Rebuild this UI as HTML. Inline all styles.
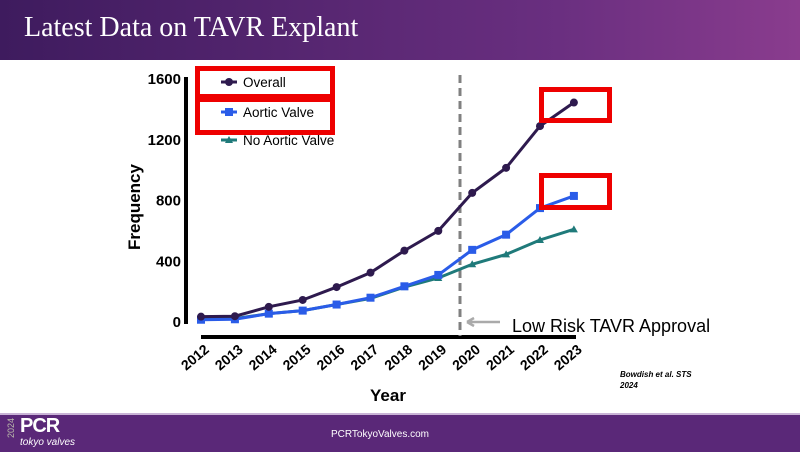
<!DOCTYPE html>
<html><head><meta charset="utf-8"><style>
body{margin:0;width:800px;height:450px;overflow:hidden;background:#fff;font-family:"Liberation Sans",sans-serif;position:relative}
#hdr{position:absolute;left:0;top:0;width:800px;height:60px;background:linear-gradient(90deg,#3e1b5e,#6a2f80 70%,#8a3c8e)}
#title{position:absolute;left:24px;top:12px;color:#fff;font:28px "Liberation Serif",serif}
#ftr{position:absolute;left:0;top:413px;width:800px;height:37px;background:#5a2878;border-top:2px solid #c9b3d6}
.rb{position:absolute;border:5px solid #ee0000;box-sizing:border-box}
</style></head><body>
<div id="hdr"></div>
<div id="title">Latest Data on TAVR Explant</div>
<svg id="chart" width="800" height="450" style="position:absolute;left:0;top:0"></svg>
<div class="rb" style="left:195px;top:66px;width:140px;height:33px"></div>
<div class="rb" style="left:195px;top:97px;width:140px;height:38px"></div>
<div class="rb" style="left:539px;top:87px;width:73px;height:36px"></div>
<div class="rb" style="left:539px;top:173px;width:73px;height:37px"></div>
<div id="ftr">
<div style="position:absolute;left:6px;top:3px;color:#bba;font-size:9px;writing-mode:vertical-rl;transform:rotate(180deg)">2024</div>
<div style="position:absolute;left:20px;top:0px;color:#fff;font-weight:bold;font-size:20px;letter-spacing:-1px">PCR</div>
<div style="position:absolute;left:20px;top:22px;color:#fff;font-style:italic;font-size:10px">tokyo valves</div>
<div style="position:absolute;left:0;width:760px;text-align:center;top:14px;color:#fff;font-size:10px">PCRTokyoValves.com</div>
</div>
<script>
const years=["2012","2013","2014","2015","2016","2017","2018","2019","2020","2021","2022","2023"];
const overall=[35,38,100,145,230,325,470,600,850,1015,1290,1445];
const aortic=[15,18,55,75,115,160,235,310,475,575,750,830];
const noAortic=[20,22,55,75,115,155,230,290,380,445,540,610];
const yTicks=[0,400,800,1200,1600];
const NS="http://www.w3.org/2000/svg";
const svg=document.getElementById('chart');
const X=i=>201+i*33.9;
const Y=v=>322-v*(243/1600);
function mk(t,a,p){const e=document.createElementNS(NS,t);for(const k in a)e.setAttribute(k,a[k]);(p||svg).appendChild(e);return e;}
let e;
e=mk('line',{x1:186,y1:77,x2:186,y2:324,stroke:'#000','stroke-width':4});

e=mk('line',{x1:201,y1:337,x2:576,y2:337,stroke:'#000','stroke-width':4});

yTicks.forEach(v=>{e=mk('text',{x:181,y:Y(v)+5,'text-anchor':'end','font-size':15,'font-weight':'bold'});e.textContent=v;
});
years.forEach((y,i)=>{e=mk('text',{x:X(i)+9,y:351,'text-anchor':'end','font-size':14,'font-weight':'bold',transform:`rotate(-40 ${X(i)+9} 351)`});e.textContent=y;
});
e=mk('text',{x:388,y:401,'text-anchor':'middle','font-size':17,'font-weight':'bold'});e.textContent='Year';

e=mk('text',{x:140,y:207,'text-anchor':'middle','font-size':17,'font-weight':'bold',transform:'rotate(-90 140 207)'});e.textContent='Frequency';

e=mk('line',{x1:460,y1:75,x2:460,y2:336,stroke:'#808080','stroke-width':3,'stroke-dasharray':'8,5'});

e=mk('path',{d:'M467 322 L500 322 M467 322 L474 318 M467 322 L474 326',stroke:'#aaa','stroke-width':2.5,fill:'none'});

e=mk('text',{x:512,y:332,'font-size':18});e.textContent='Low Risk TAVR Approval';

function series(d,col,shape,name){
 e=mk('polyline',{points:d.map((v,i)=>X(i)+','+Y(v)).join(' '),fill:'none',stroke:col,'stroke-width':3});
 
 d.forEach((v,i)=>{const x=X(i),y=Y(v);
  if(shape==='c')e=mk('circle',{cx:x,cy:y,r:4,fill:col});
  else if(shape==='s')e=mk('rect',{x:x-4,y:y-4,width:8,height:8,fill:col});
  else e=mk('path',{d:`M${x-4} ${y+3}L${x+4} ${y+3}L${x} ${y-4}Z`,fill:col});
  });
}
series(noAortic,'#1f7a7a','t','no-aortic-valve');
series(aortic,'#2a5ce8','s','aortic-valve');
series(overall,'#2e1a4e','c','overall');
const leg=[['Overall','#2e1a4e','c',82],['Aortic Valve','#2a5ce8','s',112],['No Aortic Valve','#1f7a7a','t',140]];
leg.forEach(l=>{const y=l[3];
 e=mk('line',{x1:221,y1:y,x2:237,y2:y,stroke:l[1],'stroke-width':3});
 if(l[2]==='c')e=mk('circle',{cx:229,cy:y,r:4,fill:l[1]});else if(l[2]==='s')e=mk('rect',{x:225,y:y-4,width:8,height:8,fill:l[1]});else e=mk('path',{d:`M225 ${y+3}L233 ${y+3}L229 ${y-4}Z`,fill:l[1]});
 
 e=mk('text',{x:243,y:y+5,'font-size':13.5});e.textContent=l[0];});
e=mk('text',{x:620,y:377,'font-size':8,'font-weight':'bold','font-style':'italic'});e.textContent='Bowdish et al. STS';

e=mk('text',{x:620,y:388,'font-size':8,'font-weight':'bold','font-style':'italic'});e.textContent='2024';

</script>
</body></html>
